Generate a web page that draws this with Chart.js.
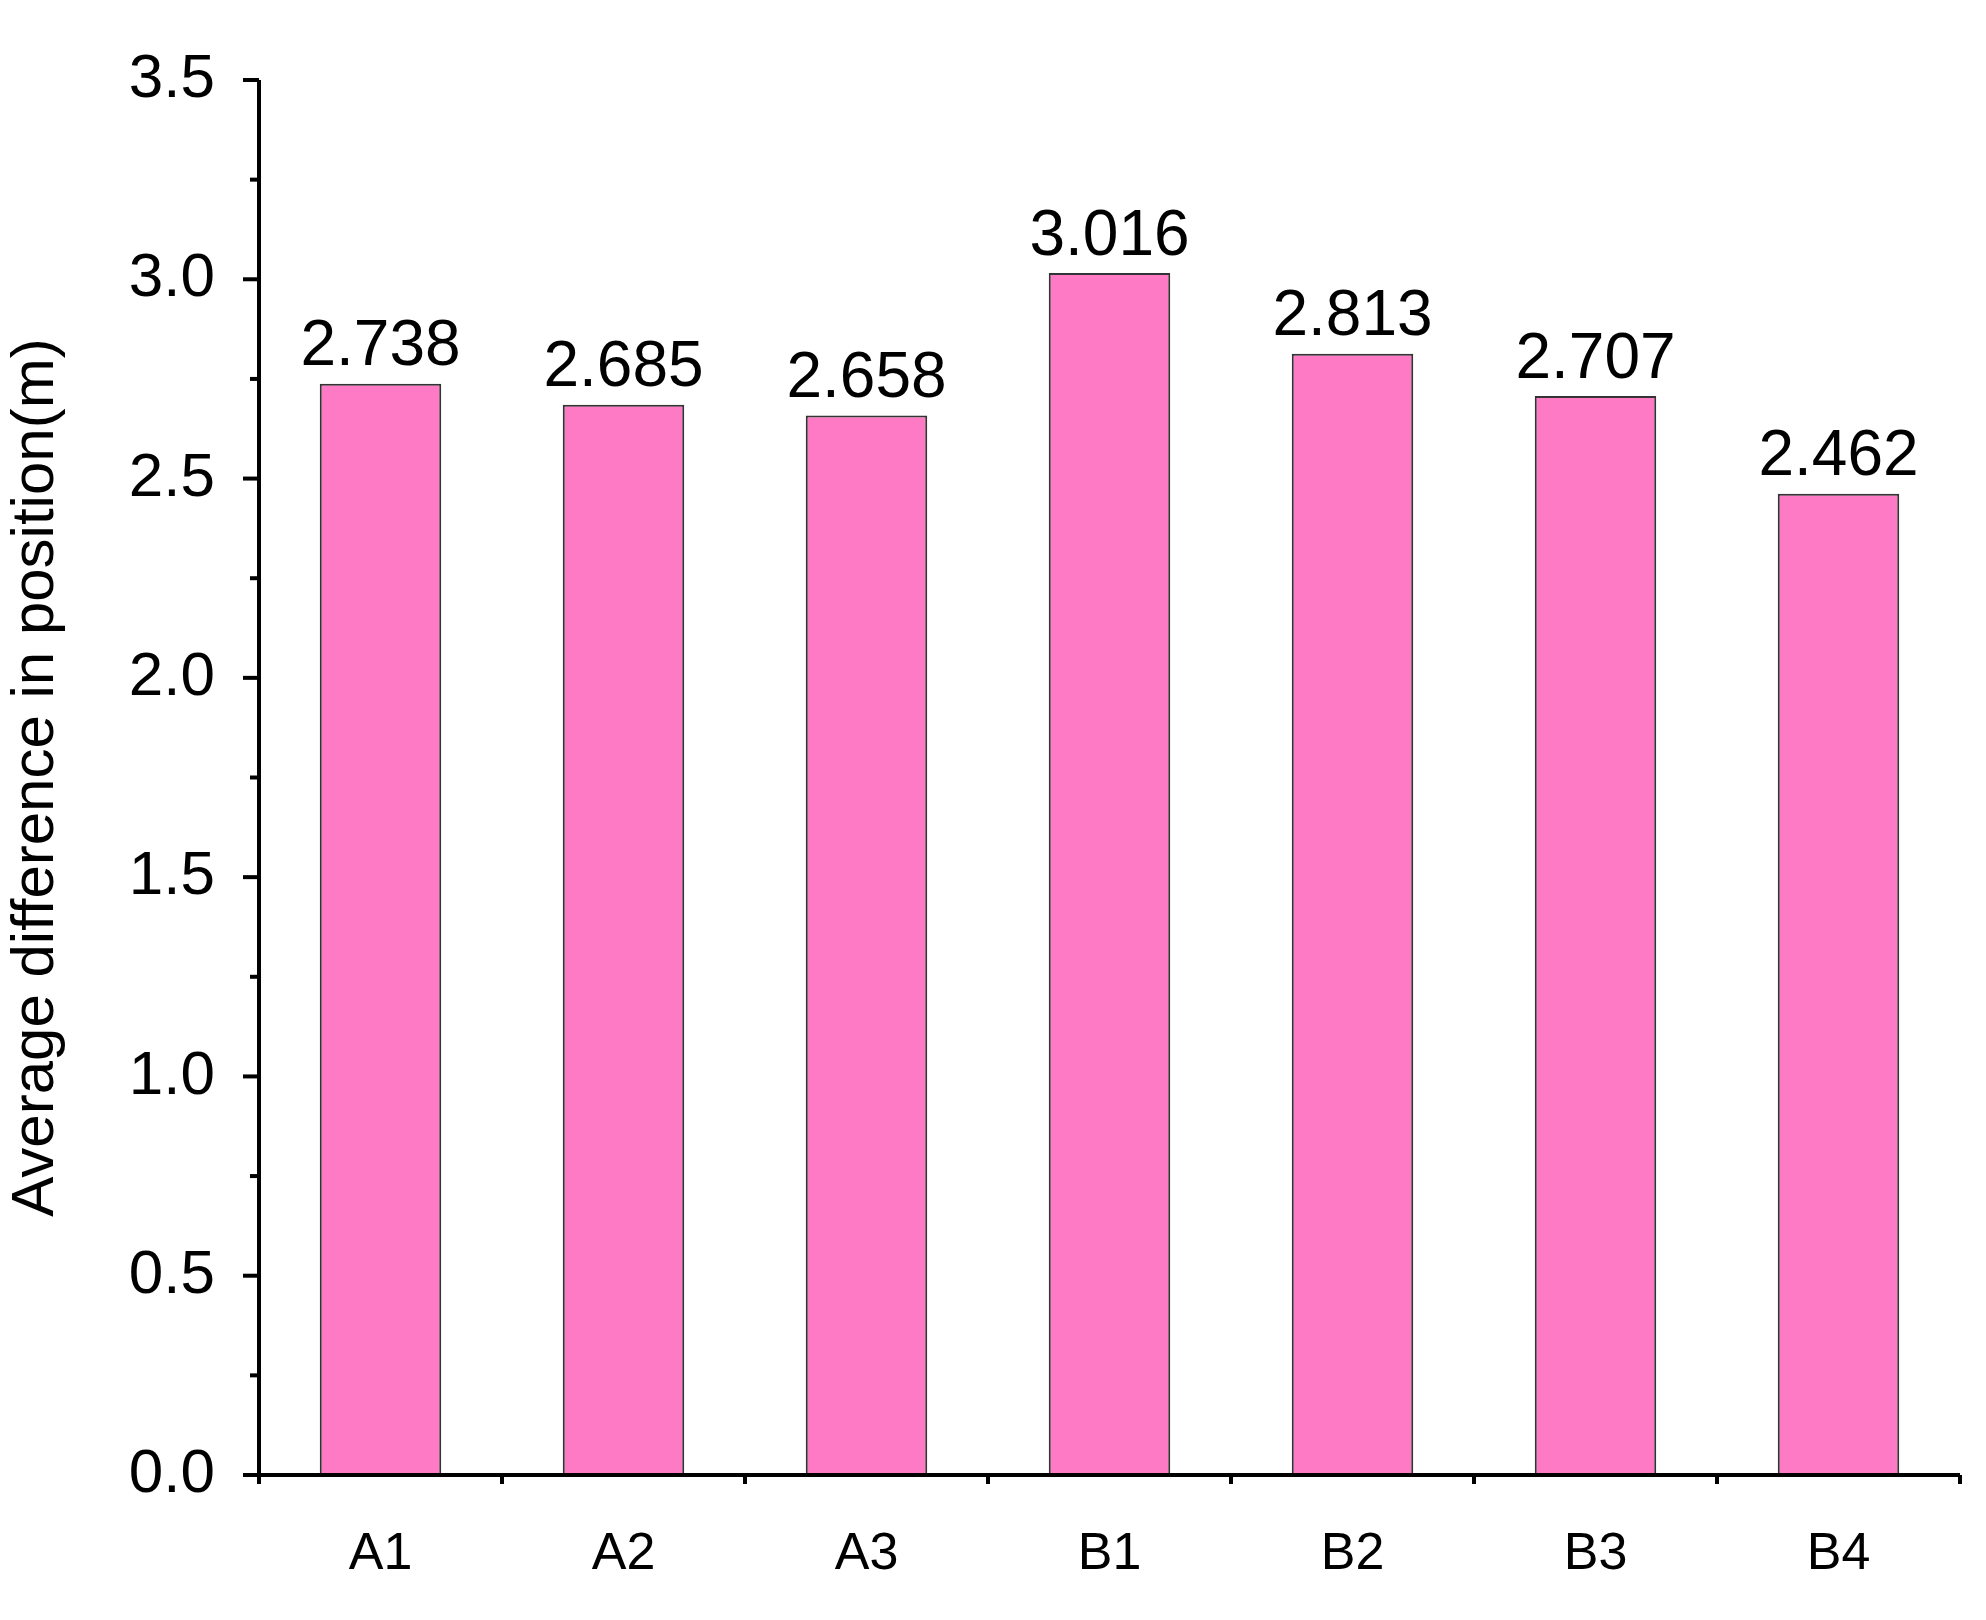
<!DOCTYPE html>
<html><head><meta charset="utf-8">
<script src="https://cdn.jsdelivr.net/npm/chart.js@4"></script>
<style>html,body{margin:0;padding:0;background:#fff}#w{width:1986px;height:1620px}</style>
</head><body><div id="w"><canvas id="c"></canvas></div>
<script>
const categories = ["A1","A2","A3","B1","B2","B3","B4"];
const values = [2.738,2.685,2.658,3.016,2.813,2.707,2.462];
const valueLabels = ["2.738","2.685","2.658","3.016","2.813","2.707","2.462"];
const yTickLabels = ["0.0","0.5","1.0","1.5","2.0","2.5","3.0","3.5"];
const FONT = "'Liberation Sans', Arial, sans-serif";

const deco = {
  id: 'deco',
  afterDraw(chart) {
    const ctx = chart.ctx, x = chart.scales.x, y = chart.scales.y;
    const a = chart.chartArea;
    ctx.save();
    ctx.strokeStyle = '#000'; ctx.lineWidth = 4;
    ctx.beginPath(); ctx.moveTo(a.left, a.top); ctx.lineTo(a.left, a.bottom + 2);
    ctx.moveTo(a.left - 2, a.bottom); ctx.lineTo(a.right, a.bottom); ctx.stroke();
    for (let v = 0; v <= 3.5001; v += 0.25) {
      const py = y.getPixelForValue(v);
      const major = Math.abs(v * 2 - Math.round(v * 2)) < 1e-6;
      ctx.lineWidth = 4;
      ctx.beginPath(); ctx.moveTo(a.left, py); ctx.lineTo(a.left - (major ? 16 : 9), py); ctx.stroke();
    }
    const n = categories.length, step = (a.right - a.left) / n;
    for (let i = 0; i <= n; i++) {
      const px = a.left + i * step;
      ctx.beginPath(); ctx.moveTo(px, a.bottom); ctx.lineTo(px, a.bottom + 9); ctx.stroke();
    }
    ctx.fillStyle = '#000'; ctx.font = '64px ' + FONT;
    ctx.textAlign = 'center'; ctx.textBaseline = 'bottom';
    chart.getDatasetMeta(0).data.forEach((b, i) => {
      ctx.fillText(valueLabels[i], b.x, b.y - 4);
    });
    ctx.restore();
  }
};

new Chart(document.getElementById('c'), {
  type: 'bar',
  data: { labels: categories, datasets: [{ data: values, backgroundColor: '#FF7AC4', borderColor: '#333', borderWidth: 2, categoryPercentage: 1, barPercentage: 0.5 }] },
  options: {
    responsive: true, maintainAspectRatio: false, animation: false,
    layout: { padding: { top: 80, right: 26, left: 0, bottom: 0 } },
    plugins: { legend: { display: false }, tooltip: { enabled: false } },
    scales: {
      x: {
        grid: { display: false }, border: { display: false },
        ticks: { color: '#000', font: { size: 52, family: FONT }, padding: 40, maxRotation: 0 },
        afterFit(s) { s.height = 145; }
      },
      y: {
        min: 0, max: 3.5,
        grid: { display: false }, border: { display: false },
        ticks: { stepSize: 0.5, color: '#000', font: { size: 62, family: FONT }, padding: 36,
          callback: (v) => yTickLabels[Math.round(v * 2)] },
        title: { display: true, text: 'Average difference in position(m)', color: '#000', font: { size: 60, family: FONT }, padding: { top: 0, bottom: 20 } },
        afterFit(s) { s.width = 259; }
      }
    }
  },
  plugins: [deco]
});
</script></body></html>
